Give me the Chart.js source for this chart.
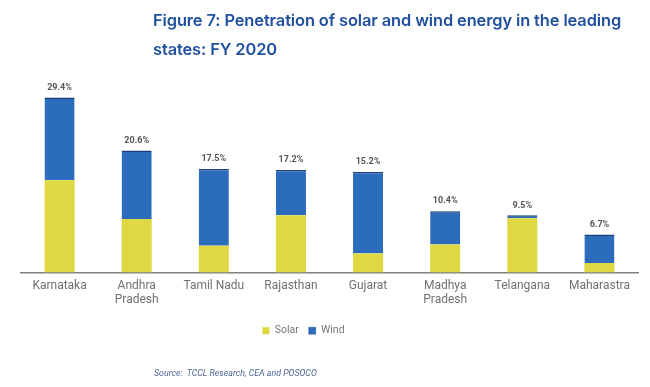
<!DOCTYPE html>
<html>
<head>
<meta charset="utf-8">
<script src="https://cdn.jsdelivr.net/npm/chart.js@4.4.1/dist/chart.umd.min.js"></script>
<style>
  html, body { margin: 0; padding: 0; background: #fff; }
  #wrap { position: relative; width: 650px; height: 387px; }
  #title {
    position: absolute; left: 153px; top: 6px; width: 490px;
    font-family: Inter, Roboto, sans-serif; font-weight: 600; font-size: 16.4px;
    line-height: 29px; color: #1f4f9f; letter-spacing: -0.1px;
  }
  #source {
    position: absolute; left: 154px; top: 368px;
    font-family: Roboto, sans-serif; font-style: italic; font-size: 8.8px; color: #4d6494;
  }
  canvas { position: absolute; left: 0; top: 0; }
</style>
</head>
<body>
<div id="wrap">
  <canvas id="barChart" width="650" height="387"></canvas>
  <div id="title">Figure 7: Penetration of solar and wind energy in the leading states: FY 2020</div>
  <div id="source">Source:&nbsp; TCCL Research, CEA and POSOCO</div>
</div>
<script>
// states (x axis)
var states = ['Karnataka', ['Andhra', 'Pradesh'], 'Tamil Nadu', 'Rajasthan', 'Gujarat',
              ['Madhya', 'Pradesh'], 'Telangana', 'Maharastra'];
// share in %
var solar = [15.5, 9.0, 4.5, 9.6, 3.2, 4.7, 9.1, 1.6];
var wind  = [13.9, 11.5, 12.9, 7.6, 13.7, 5.6, 0.5, 4.8];
// labels printed above each bar
var totals = ['29.4%', '20.6%', '17.5%', '17.2%', '15.2%', '10.4%', '9.5%', '6.7%'];

// draws the total above every stacked bar
var totalLabels = {
    id: 'totalLabels',
    afterDatasetsDraw: function(chart) {
        var ctx = chart.ctx;
        var meta = chart.getDatasetMeta(chart.data.datasets.length - 1);
        ctx.save();
        ctx.font = 'bold 9px Roboto, sans-serif';
        ctx.fillStyle = '#555';
        ctx.textAlign = 'center';
        ctx.textBaseline = 'middle';
        meta.data.forEach(function(bar, i) {
            ctx.fillText(totals[i], bar.x, bar.y - 10);
        });
        ctx.restore();
    }
};

// legend sits a little left of the plot centre in the original
var legendShift = {
    id: 'legendShift',
    afterLayout: function(chart) {
        chart.legend.left -= 26;
        chart.legend.right -= 26;
    }
};

new Chart(document.getElementById('barChart').getContext('2d'), {
    type: 'bar',
    data: {
        labels: states,
        datasets: [
            {
                label: 'Solar',
                data: solar,
                backgroundColor: '#dfd843',
                borderWidth: 0
            },
            {
                label: 'Wind',
                data: wind,
                backgroundColor: '#2b6cbd',
                borderColor: '#183d78',
                borderWidth: { top: 1.5, left: 0, right: 0, bottom: 0 },
                borderSkipped: false
            }
        ]
    },
    options: {
        responsive: false,
        animation: false,
        layout: { padding: { top: 82, left: 21, right: 12, bottom: 41 } },
        categoryPercentage: 1,
        barPercentage: 0.39,
        scales: {
            x: {
                stacked: true,
                grid: { display: false, drawTicks: false },
                border: { display: true, color: '#808080', width: 1.5 },
                ticks: {
                    color: '#707070',
                    font: { family: 'Roboto, sans-serif', size: 12 },
                    padding: 6,
                    maxRotation: 0
                },
                afterFit: function(scale) { scale.height = 43; }
            },
            y: {
                stacked: true,
                display: false,
                min: 0,
                max: 32
            }
        },
        plugins: {
            title: { display: false },
            tooltip: { enabled: false },
            legend: {
                position: 'bottom',
                labels: {
                    boxWidth: 7,
                    boxHeight: 7,
                    padding: 10,
                    color: '#777',
                    font: { family: 'Roboto, sans-serif', size: 10.5 }
                }
            }
        }
    },
    plugins: [totalLabels, legendShift]
});
</script>
</body>
</html>
